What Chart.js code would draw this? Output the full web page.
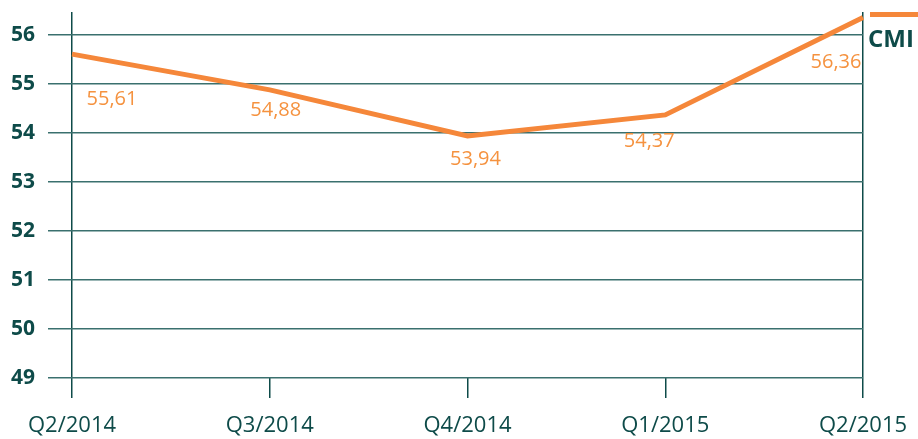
<!DOCTYPE html>
<html>
<head>
<meta charset="utf-8">
<script src="https://cdn.jsdelivr.net/npm/chart.js@4"></script>
<style>
  html,body{margin:0;padding:0;background:#fff;}
  #wrap{position:relative;width:918px;height:439px;}
</style>
</head>
<body>
<div id="wrap"><canvas id="c" width="918" height="439"></canvas></div>
<script>
const quarters = ['Q2/2014','Q3/2014','Q4/2014','Q1/2015','Q2/2015'];
const cmiValues = [55.61, 54.88, 53.94, 54.37, 56.36];
const yTicks = [49, 50, 51, 52, 53, 54, 55, 56];
const seriesName = 'CMI';
// label nudges (px) relative to each point
const labelOffsets = [[40,45],[6,20],[8,23],[-16,26],[-27,45]];

const ORANGE='#f5873a', LABEL='#f5923f', TEAL='#0e4b49', GRID='#3a706e';
const FONT='"Open Sans", sans-serif';

/* value labels + legend drawn on top */
const extras = {
  id:'extras',
  afterDatasetsDraw(chart){
    const ctx=chart.ctx, meta=chart.getDatasetMeta(0);
    ctx.save();
    ctx.font='20px '+FONT; ctx.fillStyle=LABEL;
    ctx.textAlign='center'; ctx.textBaseline='middle';
    meta.data.forEach((pt,i)=>{
      const [dx,dy]=labelOffsets[i];
      ctx.fillText(cmiValues[i].toFixed(2).replace('.',','), pt.x+dx, pt.y+dy);
    });
    // legend
    ctx.fillStyle=ORANGE; ctx.fillRect(870,12,48,5);
    ctx.font='bold 24px '+FONT; ctx.fillStyle=TEAL; ctx.textAlign='left';
    ctx.fillText(seriesName, 868, 40);
    ctx.restore();
  }
};

new Chart(document.getElementById('c'),{
  type:'line',
  data:{labels:quarters,datasets:[{
    label:seriesName,data:cmiValues,borderColor:ORANGE,borderWidth:5,
    pointRadius:0,tension:0,fill:false
  }]},
  options:{
    responsive:false,animation:false,
    layout:{padding:{top:12,right:55,left:0,bottom:0}},
    plugins:{legend:{display:false},tooltip:{enabled:false}},
    scales:{
      x:{
        offset:false,
        border:{display:false},
        grid:{
          color:ctx=>(ctx.index===0||ctx.index===quarters.length-1)?TEAL:'rgba(0,0,0,0)',
          tickColor:TEAL,tickLength:20,lineWidth:1.5,drawOnChartArea:true
        },
        ticks:{color:TEAL,font:{family:FONT,size:22},padding:15,maxRotation:0,autoSkip:false},
        afterFit:s=>{s.height=61;s.paddingLeft=0;s.paddingRight=0;}
      },
      y:{
        min:49,max:56.47,
        border:{display:false},
        afterBuildTicks:s=>{s.ticks=yTicks.map(v=>({value:v}));},
        grid:{color:ctx=>ctx.tick&&ctx.tick.value%1===0?GRID:'rgba(0,0,0,0)',tickColor:GRID,tickLength:24,lineWidth:1.5},
        ticks:{color:TEAL,font:{family:FONT,size:21,weight:'bold'},padding:13},
        afterFit:s=>{s.width=72;s.paddingTop=0;s.paddingBottom=0;}
      }
    }
  },
  plugins:[extras]
});
</script>
</body>
</html>
